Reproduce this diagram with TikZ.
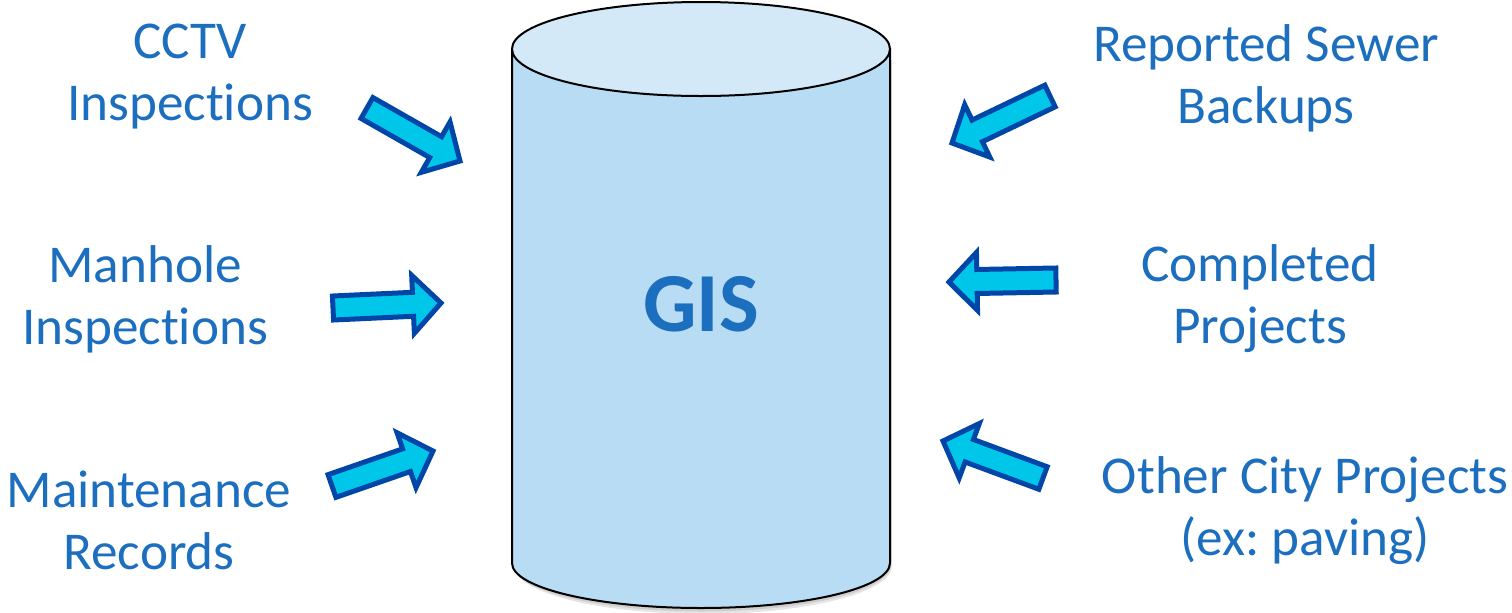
\documentclass[tikz,border=0pt]{standalone}
\usepackage{fontspec}
\setmainfont{Carlito}[Ligatures={NoCommon}]
\frenchspacing
\usetikzlibrary{calc}
\definecolor{txtblue}{RGB}{28,110,190}
\definecolor{arrfill}{RGB}{0,198,234}
\definecolor{arrline}{RGB}{0,70,168}
\definecolor{cylbody}{RGB}{184,220,243}
\definecolor{cyltop}{RGB}{212,233,248}
\tikzset{
  lbl/.style={text=txtblue, align=center, anchor=base, inner sep=0pt,
    font=\fontsize{26.6pt}{31pt}\selectfont},
  barr/.style={draw=arrline, fill=arrfill, line width=2.5pt, line join=miter},
  cyl/.style={draw=black, line width=1pt},
}
\newcommand\blockarrow[2]{%
  \draw[barr] ($(#1)!6pt!90:(#2)$)
    -- ($(#2)!14pt!(#1)!6pt!-90:(#1)$)
    -- ($(#2)!14pt!(#1)!14.5pt!-90:(#1)$)
    -- (#2)
    -- ($(#2)!14pt!(#1)!14.5pt!90:(#1)$)
    -- ($(#2)!14pt!(#1)!6pt!90:(#1)$)
    -- ($(#1)!6pt!-90:(#2)$) -- cycle;}
\begin{document}
\begin{tikzpicture}[x=0.5pt,y=-0.5pt]
\useasboundingbox (0,0) rectangle (1512,612);
% cylinder shadow
\fill[black,opacity=0.10] (514,60) -- (514,566) arc[start angle=180,end angle=0,x radius=189,y radius=48] -- (892,60) -- cycle;
\fill[black,opacity=0.10] (513,60) -- (513,565) arc[start angle=180,end angle=0,x radius=189,y radius=46.5] -- (891,60) -- cycle;
% cylinder body
\path[cyl, fill=cylbody] (512,49) -- (512,563) arc[start angle=180,end angle=0,x radius=189,y radius=45] -- (890,49) -- cycle;
\path[cyl, fill=cyltop] (701,49) ellipse[x radius=189, y radius=47];
\node[text=txtblue, font=\fontsize{42pt}{50pt}\selectfont\bfseries, inner sep=0pt] (gis) at (701,304) {GIS};
% labels (base anchor = baseline of the last line)
\node[lbl] (cctv) at (190,120) {CCTV\\Inspections};
\node[lbl] (manhole) at (145,344) {Manhole\\Inspections};
\node[lbl] (maint) at (149,569) {Maintenance\\Records};
\node[lbl] (sewer) at (1266,123) {Reported Sewer\\Backups};
\node[lbl] (compl) at (1260,343) {Completed\\Projects};
\node[lbl] (other) at (1305,555) {Other City Projects\\(ex: paving)};
% arrow end points
\coordinate (a1) at (367,108); \coordinate (b1) at (460,161);
\coordinate (a2) at (333,308); \coordinate (b2) at (441,303);
\coordinate (a3) at (332,486); \coordinate (b3) at (433,451);
\coordinate (a4) at (1050,96); \coordinate (b4) at (952,143);
\coordinate (a5) at (1056,280); \coordinate (b5) at (949,282);
\coordinate (a6) at (1043,478); \coordinate (b6) at (943,441);
\blockarrow{a1}{b1}
\blockarrow{a2}{b2}
\blockarrow{a3}{b3}
\blockarrow{a4}{b4}
\blockarrow{a5}{b5}
\blockarrow{a6}{b6}
\end{tikzpicture}
\end{document}
